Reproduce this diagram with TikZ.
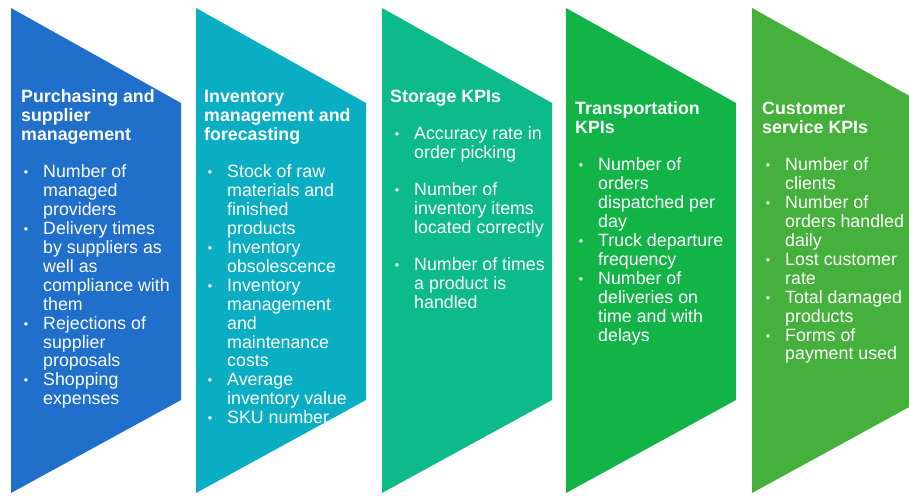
\documentclass[tikz,border=0pt]{standalone}
\usepackage{fontspec}
\setmainfont{Liberation Sans}
\definecolor{cA}{HTML}{1F6FCB}
\definecolor{cB}{HTML}{0AAEC2}
\definecolor{cC}{HTML}{0DBA89}
\definecolor{cD}{HTML}{12B347}
\definecolor{cE}{HTML}{45B03B}
\newcommand\kb{\llap{\raisebox{1pt}{\scalebox{0.7}{•}}\hspace{15pt}}}
\begin{document}
\begin{tikzpicture}[x=1pt,y=-1pt,
  kpitext/.style={anchor=north west, inner sep=0pt, align=left, text=white,
    font=\fontsize{17.8}{18.9}\selectfont},
  kpihead/.style={kpitext, font=\fontsize{17.8}{18.9}\selectfont\bfseries}]
\useasboundingbox (0,0) rectangle (909,495);
\clip (0,0) rectangle (909,495);
\fill[white] (0,0) rectangle (909,495);
\fill[cA] (11,8) -- (181,103) -- (181,400) -- (11,493) -- cycle;
\fill[cB] (196,8) -- (366,103) -- (366,400) -- (196,493) -- cycle;
\fill[cC] (382,8) -- (552,103) -- (552,400) -- (382,493) -- cycle;
\fill[cD] (566,8) -- (736,103) -- (736,400) -- (566,493) -- cycle;
\fill[cE] (752,8) -- (922,103) -- (922,400) -- (752,493) -- cycle;

\node[kpihead] (h1) at (21,89.5) {\strut Purchasing and\\supplier\\management};
\node[kpitext] (l1) at (43,164.5) {\strut\kb Number of\\managed\\providers\\
\kb Delivery times\\by suppliers as\\well as\\compliance with\\them\\
\kb Rejections of\\supplier\\proposals\\
\kb Shopping\\expenses};

\node[kpihead] (h2) at (204,89.5) {\strut Inventory\\management and\\forecasting};
\node[kpitext] (l2) at (227,164.5) {\strut\kb Stock of raw\\materials and\\finished\\products\\
\kb Inventory\\obsolescence\\
\kb Inventory\\management\\and\\maintenance\\costs\\
\kb Average\\inventory value\\
\kb SKU number};

\node[kpihead] (h3) at (390,89.5) {\strut Storage KPIs};
\node[kpitext] (l3) at (414,126.5) {\strut\kb Accuracy rate in\\order picking\\[18pt]
\kb Number of\\inventory items\\located correctly\\[18pt]
\kb Number of times\\a product is\\handled};

\node[kpihead] (h4) at (575,101.5) {\strut Transportation\\KPIs};
\node[kpitext] (l4) at (598,157.5) {\strut\kb Number of\\orders\\dispatched per\\day\\
\kb Truck departure\\frequency\\
\kb Number of\\deliveries on\\time and with\\delays};

\node[kpihead] (h5) at (762,101.5) {\strut Customer\\service KPIs};
\node[kpitext] (l5) at (785,157.5) {\strut\kb Number of\\clients\\
\kb Number of\\orders handled\\daily\\
\kb Lost customer\\rate\\
\kb Total damaged\\products\\
\kb Forms of\\payment used};
\end{tikzpicture}
\end{document}
